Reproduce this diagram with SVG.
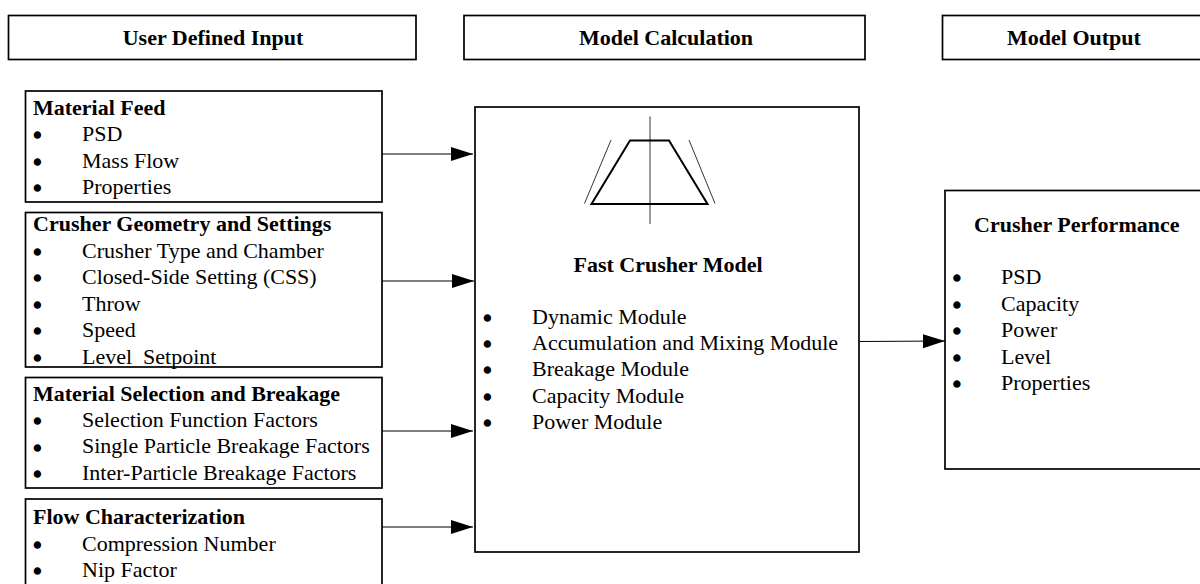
<svg xmlns="http://www.w3.org/2000/svg" width="1200" height="584" viewBox="0 0 1200 584">
<style>
text{font-family:"Liberation Serif","Times New Roman",serif;font-size:22px;fill:#000;white-space:pre}
.b{font-weight:bold}
.m{text-anchor:middle}
.d{font-size:25px;stroke:#000;stroke-width:1.4}
.box{fill:#fff;stroke:#000;stroke-width:1.7}
.thick{fill:none;stroke:#000;stroke-width:2}
.thin{fill:none;stroke:#000;stroke-width:.8}
.conn{stroke:#000;stroke-width:1;fill:none;marker-end:url(#arr)}
</style>
<defs><marker id="arr" markerUnits="userSpaceOnUse" markerWidth="24" markerHeight="16" refX="22" refY="8" orient="auto"><path d="M0 1 L22 8 L0 15 Z" fill="#000"/></marker></defs>
<rect width="1200" height="584" fill="#fff"/>
<g id="header-input"><rect class="box" x="8.5" y="15.5" width="407.500" height="44"/><text class="b m" x="213" y="45">User Defined Input</text></g>
<g id="header-calc"><rect class="box" x="464" y="15.5" width="401" height="44"/><text class="b m" x="666" y="45">Model Calculation</text></g>
<g id="header-output"><rect class="box" x="942.500" y="15.5" width="270" height="44"/><text class="b m" x="1074" y="45">Model Output</text></g>
<g id="material-feed"><rect class="box" x="25.500" y="91" width="356.500" height="111"/>
<text class="b" x="33" y="115">Material Feed</text>
<text class="d" x="33" y="144">•</text><text x="82" y="141">PSD</text>
<text class="d" x="33" y="171">•</text><text x="82" y="168">Mass Flow</text>
<text class="d" x="33" y="197">•</text><text x="82" y="194">Properties</text></g>
<g id="crusher-geometry"><rect class="box" x="25.500" y="212.500" width="356.500" height="154.500"/>
<text class="b" x="33" y="231">Crusher Geometry and Settings</text>
<text class="d" x="33" y="261">•</text><text x="82" y="258">Crusher Type and Chamber</text>
<text class="d" x="33" y="287">•</text><text x="82" y="284">Closed-Side Setting (CSS)</text>
<text class="d" x="33" y="314">•</text><text x="82" y="311">Throw</text>
<text class="d" x="33" y="340">•</text><text x="82" y="337">Speed</text>
<text class="d" x="33" y="367">•</text><text x="82" y="364">Level  Setpoint</text></g>
<g id="material-selection"><rect class="box" x="25.500" y="377.500" width="356.500" height="110.500"/>
<text class="b" x="33" y="401">Material Selection and Breakage</text>
<text class="d" x="33" y="430">•</text><text x="82" y="427">Selection Function Factors</text>
<text class="d" x="33" y="457">•</text><text x="82" y="453">Single Particle Breakage Factors</text>
<text class="d" x="33" y="483">•</text><text x="82" y="480">Inter-Particle Breakage Factors</text></g>
<g id="flow-characterization"><rect class="box" x="25.500" y="499" width="356.500" height="100"/>
<text class="b" x="33" y="524">Flow Characterization</text>
<text class="d" x="33" y="554">•</text><text x="82" y="551">Compression Number</text>
<text class="d" x="33" y="580">•</text><text x="82" y="577">Nip Factor</text></g>
<g id="fast-crusher-model"><rect class="box" x="475" y="107" width="384" height="445"/>
<path class="thick" d="M591.500 204 L630 140.500 L669 140.500 L707.500 204 Z"/>
<path class="thin" d="M650 116.500 V224 M611 140 L584.500 203.500 M689 140 L715 203.500"/>
<text class="b m" x="668" y="272">Fast Crusher Model</text>
<text class="d" x="483" y="327">•</text><text x="532" y="324">Dynamic Module</text>
<text class="d" x="483" y="353">•</text><text x="532" y="350">Accumulation and Mixing Module</text>
<text class="d" x="483" y="379">•</text><text x="532" y="376">Breakage Module</text>
<text class="d" x="483" y="406">•</text><text x="532" y="403">Capacity Module</text>
<text class="d" x="483" y="432">•</text><text x="532" y="429">Power Module</text></g>
<g id="crusher-performance"><rect class="box" x="945" y="190.500" width="270" height="278.500"/>
<text class="b" x="974" y="232">Crusher Performance</text>
<text class="d" x="952.500" y="287">•</text><text x="1001" y="284">PSD</text>
<text class="d" x="952.500" y="314">•</text><text x="1001" y="311">Capacity</text>
<text class="d" x="952.500" y="340">•</text><text x="1001" y="337">Power</text>
<text class="d" x="952.500" y="367">•</text><text x="1001" y="364">Level</text>
<text class="d" x="952.500" y="393">•</text><text x="1001" y="390">Properties</text></g>
<g id="connectors">
<path class="conn" d="M382 154 H473"/>
<path class="conn" d="M382 281 H474"/>
<path class="conn" d="M382 431 H473"/>
<path class="conn" d="M382 527 H473"/>
<path class="conn" d="M860 341.500 L945 341"/>
</g>
</svg>
